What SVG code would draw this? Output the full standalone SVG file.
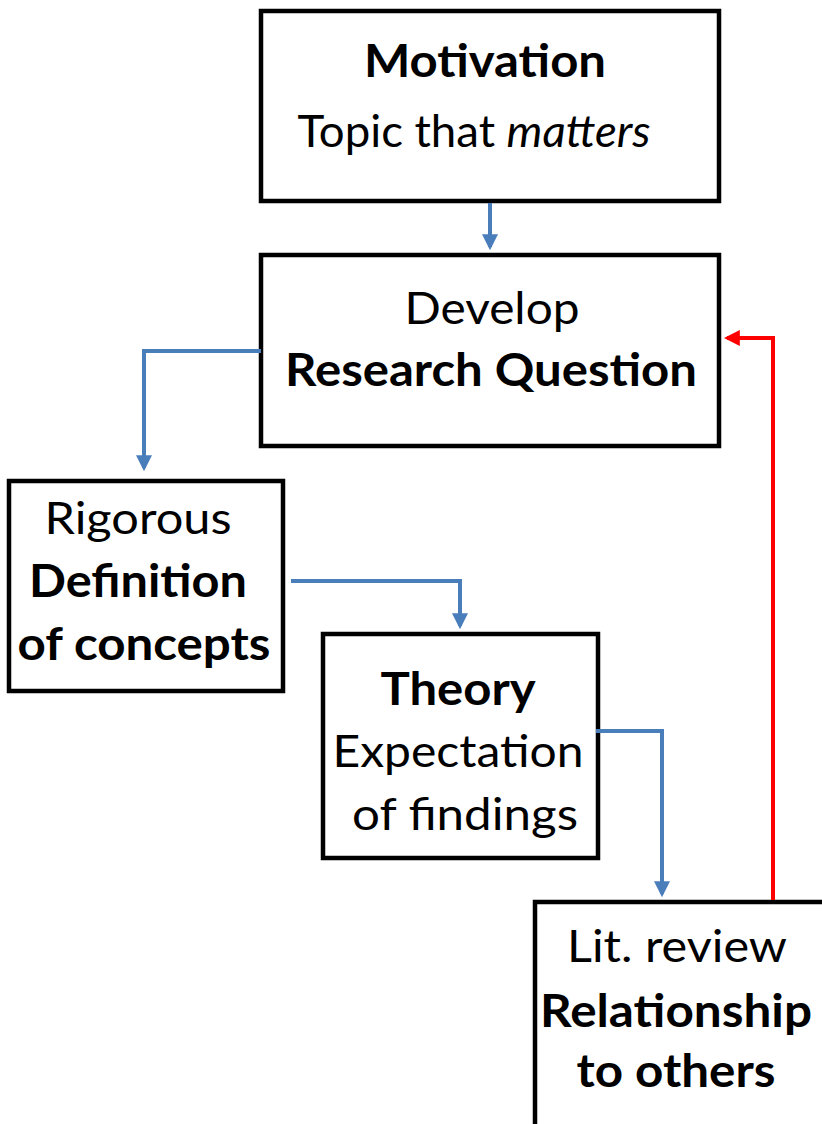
<svg xmlns="http://www.w3.org/2000/svg" width="822" height="1124" viewBox="0 0 822 1124">
<defs>
<style>
.box{fill:#fff;stroke:#000;stroke-width:4.5}
.t{font-family:Lato,"Open Sans","Liberation Sans",sans-serif;font-size:45px;fill:#000;text-anchor:middle}
.b{font-weight:bold}
.blue{fill:none;stroke:#4A7EBB;stroke-width:4}
.red{fill:none;stroke:#FF0000;stroke-width:4}
</style>
<marker id="ab" markerWidth="4" markerHeight="4" refX="3.2" refY="2" orient="auto" markerUnits="strokeWidth"><path d="M0,0 L4,2 L0,4 Z" fill="#4A7EBB"/></marker>
<marker id="ar" markerWidth="4" markerHeight="4" refX="3.2" refY="2" orient="auto" markerUnits="strokeWidth"><path d="M0,0 L4,2 L0,4 Z" fill="#FF0000"/></marker>
</defs>
<rect width="822" height="1124" fill="#fff"/>
<g id="motivation">
<rect class="box" x="261" y="11" width="458" height="190"/>
<text class="t b" x="485" y="77" textLength="242" lengthAdjust="spacingAndGlyphs">Motivation</text>
<text class="t" x="474" y="147" textLength="353" lengthAdjust="spacingAndGlyphs">Topic that <tspan font-style="italic">matters</tspan></text>
</g>
<g id="research-question">
<rect class="box" x="261" y="255" width="458" height="191"/>
<text class="t" x="492" y="324" textLength="175" lengthAdjust="spacingAndGlyphs">Develop</text>
<text class="t b" x="491" y="386" textLength="412" lengthAdjust="spacingAndGlyphs">Research Question</text>
</g>
<g id="definition">
<rect class="box" x="9" y="481" width="274" height="210"/>
<text class="t" x="138" y="534" textLength="187" lengthAdjust="spacingAndGlyphs">Rigorous</text>
<text class="t b" x="138" y="597" textLength="218" lengthAdjust="spacingAndGlyphs">Definition</text>
<text class="t b" x="144" y="660" textLength="253" lengthAdjust="spacingAndGlyphs">of concepts</text>
</g>
<g id="theory">
<rect class="box" x="323" y="634" width="275" height="224"/>
<text class="t b" x="458" y="705" textLength="155" lengthAdjust="spacingAndGlyphs">Theory</text>
<text class="t" x="458" y="767" textLength="251" lengthAdjust="spacingAndGlyphs">Expectation</text>
<text class="t" x="465" y="830" textLength="226" lengthAdjust="spacingAndGlyphs">of findings</text>
</g>
<g id="lit-review">
<rect class="box" x="535" y="902" width="300" height="240"/>
<text class="t" x="677" y="962" textLength="220" lengthAdjust="spacingAndGlyphs">Lit. review</text>
<text class="t b" x="676" y="1027" textLength="272" lengthAdjust="spacingAndGlyphs">Relationship</text>
<text class="t b" x="676" y="1087" textLength="199" lengthAdjust="spacingAndGlyphs">to others</text>
</g>
<g id="connectors">
<path class="blue" d="M490,203 V247" marker-end="url(#ab)"/>
<path class="blue" d="M261,351 H144 V468" marker-end="url(#ab)"/>
<path class="blue" d="M291,581 H460 V626" marker-end="url(#ab)"/>
<path class="blue" d="M596,731 H662 V894" marker-end="url(#ab)"/>
<path class="red" d="M773,900 V338 H727" marker-end="url(#ar)"/>
</g>
</svg>
